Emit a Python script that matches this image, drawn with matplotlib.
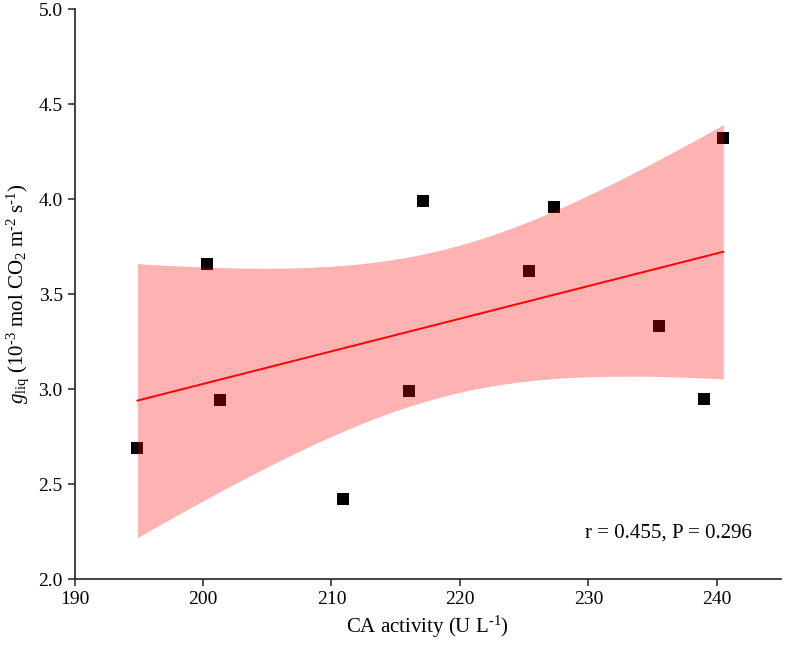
import numpy as np
import matplotlib
matplotlib.use("Agg")
import matplotlib.pyplot as plt

plt.rcParams['font.family'] = ['Liberation Serif', 'DejaVu Serif']
plt.rcParams['mathtext.fontset'] = 'custom'
plt.rcParams['mathtext.rm'] = 'Liberation Serif'
plt.rcParams['mathtext.it'] = 'Liberation Serif:italic'

# CA activity (U L-1) and g_liq values
ca_activity = [194.9, 200.3, 201.3, 216.0, 210.9, 217.1, 225.4, 227.3, 235.5, 239.0, 240.5]
g_liq = [2.69, 3.66, 2.94, 2.99, 2.42, 3.99, 3.62, 3.96, 3.33, 2.95, 4.32]
stats_text = "r = 0.455, P = 0.296"
T_95 = 2.262  # t(0.975, df=9)

x = np.array(ca_activity)
y = np.array(g_liq)
n = len(x)

# linear fit + 95% confidence band of the mean
slope, intercept = np.polyfit(x, y, 1)
xs = np.linspace(x.min(), x.max(), 200)
fit = slope * xs + intercept
resid = y - (slope * x + intercept)
s = np.sqrt(np.sum(resid ** 2) / (n - 2))
sxx = np.sum((x - x.mean()) ** 2)
half = T_95 * s * np.sqrt(1 / n + (xs - x.mean()) ** 2 / sxx)

fig = plt.figure(figsize=(7.86, 6.45), dpi=100)
ax = fig.add_axes([0.0948, 0.1023, 0.899, 0.8837])

ax.scatter(x, y, marker='s', s=75, color='black', zorder=2, linewidths=0)
ax.fill_between(xs, fit - half, fit + half, color='red', alpha=0.3,
                linewidth=0, zorder=3)
ax.plot(xs, fit, color='red', lw=1.4, zorder=4)

ax.set_xlim(190, 245)
ax.set_ylim(2.0, 5.0)
ax.set_xticks(np.arange(190, 241, 10))
ax.set_yticks(np.arange(2.0, 5.01, 0.5))
ax.yaxis.set_major_formatter(matplotlib.ticker.FormatStrFormatter('%.1f'))

for side in ['top', 'right']:
    ax.spines[side].set_visible(False)
for side in ['left', 'bottom']:
    ax.spines[side].set_linewidth(1.3)
    ax.spines[side].set_color('#333333')
ax.tick_params(axis='both', direction='out', length=5, width=1.2,
               color='#333333', labelsize=14)

ax.set_xlabel(r'CA activity (U L$^{\text{-1}}$)', fontsize=15, labelpad=4)
ax.set_ylabel(r'$\mathit{g}_{\rm liq}$ (10$^{\text{-3}}$ mol CO$_2$ m$^{\text{-2}}$ s$^{\text{-1}}$)',
              fontsize=15, labelpad=5)

ax.text(0.958, 0.081, stats_text, transform=ax.transAxes,
        ha='right', va='center', fontsize=15)

fig.savefig('out.png', dpi=100)
